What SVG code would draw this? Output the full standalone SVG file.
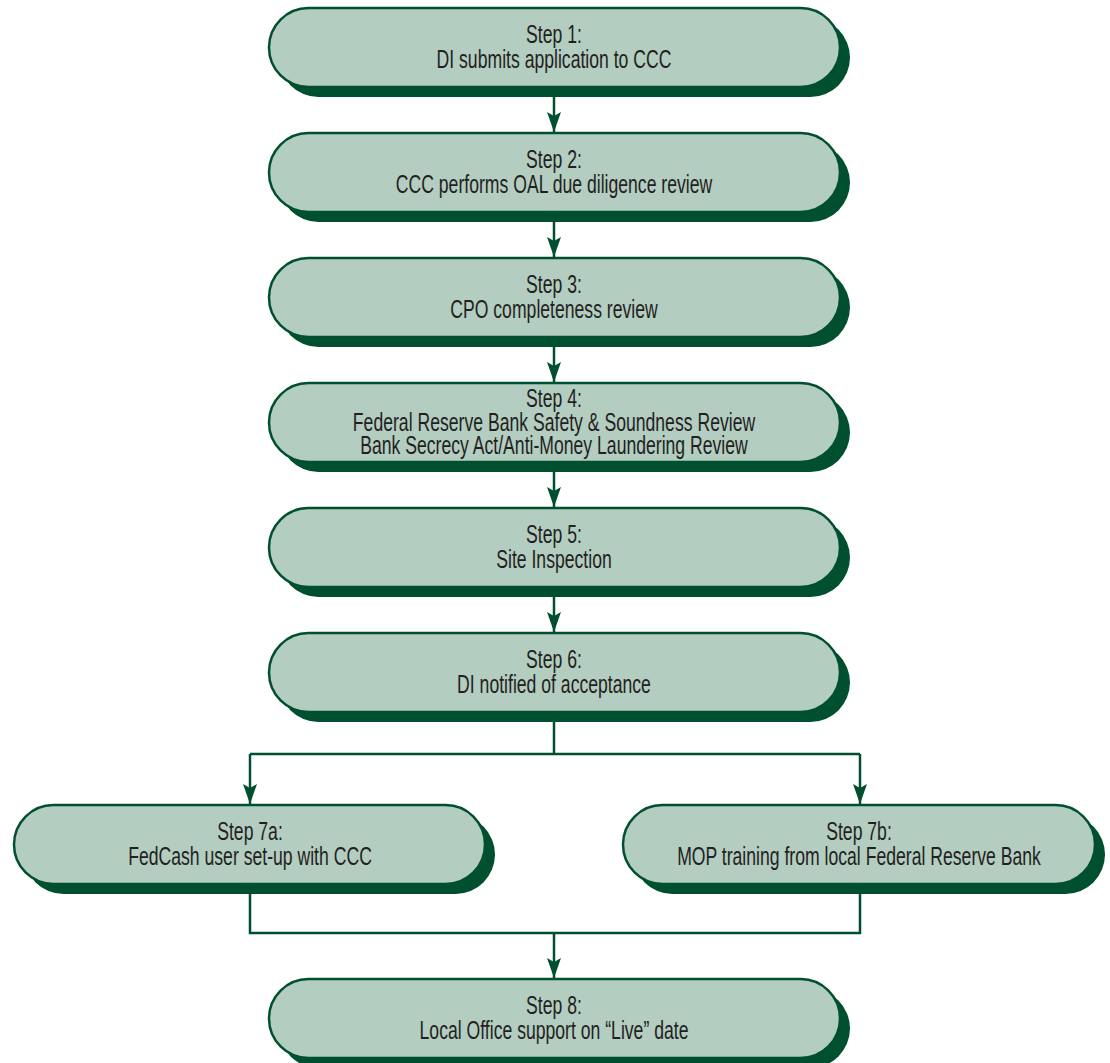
<svg xmlns="http://www.w3.org/2000/svg" width="1110" height="1063" viewBox="0 0 1110 1063">
<style>
.shadow{fill:#00502f}
.pill{fill:#b3cdc1;stroke:#00502f;stroke-width:2.5}
.t{font-family:"Liberation Sans",Arial,sans-serif;font-size:25px;fill:#231f20;text-anchor:middle}
.c{fill:none;stroke:#00502f;stroke-width:2.5}
</style>
<defs>
<marker id="ah" viewBox="0 0 20 14" refX="20" refY="7" markerWidth="20" markerHeight="14" markerUnits="userSpaceOnUse" orient="auto">
<path d="M0,0 L20,7 L0,14 L4,7 Z" fill="#00502f"/>
</marker>
</defs>
<rect width="1110" height="1063" fill="#ffffff"/>
<g id="connectors">
<path class="c" d="M554,97 V132" marker-end="url(#ah)"/>
<path class="c" d="M554,222 V257" marker-end="url(#ah)"/>
<path class="c" d="M554,347 V382" marker-end="url(#ah)"/>
<path class="c" d="M554,472 V507" marker-end="url(#ah)"/>
<path class="c" d="M554,597 V632" marker-end="url(#ah)"/>
<path class="c" d="M554,722 V754"/>
<path class="c" d="M250,754 H860"/>
<path class="c" d="M250,754 V804" marker-end="url(#ah)"/>
<path class="c" d="M860,754 V804" marker-end="url(#ah)"/>
<path class="c" d="M250,894 V933 H860 V894"/>
<path class="c" d="M554,933 V978" marker-end="url(#ah)"/>
</g>
<g id="step1">
<rect class="shadow" x="279" y="18" width="571" height="79" rx="39.5"/>
<rect class="pill" x="269" y="8" width="571" height="79" rx="39.5"/>
<text class="t" transform="translate(554,43) scale(0.705,1)">Step 1:</text>
<text class="t" transform="translate(554,68) scale(0.705,1)">DI submits application to CCC</text>
</g>
<g id="step2">
<rect class="shadow" x="279" y="143" width="571" height="79" rx="39.5"/>
<rect class="pill" x="269" y="133" width="571" height="79" rx="39.5"/>
<text class="t" transform="translate(554,168) scale(0.705,1)">Step 2:</text>
<text class="t" transform="translate(554,193) scale(0.705,1)">CCC performs OAL due diligence review</text>
</g>
<g id="step3">
<rect class="shadow" x="279" y="268" width="571" height="79" rx="39.5"/>
<rect class="pill" x="269" y="258" width="571" height="79" rx="39.5"/>
<text class="t" transform="translate(554,293) scale(0.705,1)">Step 3:</text>
<text class="t" transform="translate(554,318) scale(0.705,1)">CPO completeness review</text>
</g>
<g id="step4">
<rect class="shadow" x="279" y="393" width="571" height="79" rx="39.5"/>
<rect class="pill" x="269" y="383" width="571" height="79" rx="39.5"/>
<text class="t" transform="translate(554,407) scale(0.705,1)">Step 4:</text>
<text class="t" transform="translate(554,431) scale(0.705,1)">Federal Reserve Bank Safety &amp; Soundness Review</text>
<text class="t" transform="translate(554,454) scale(0.705,1)">Bank Secrecy Act/Anti-Money Laundering Review</text>
</g>
<g id="step5">
<rect class="shadow" x="279" y="518" width="571" height="79" rx="39.5"/>
<rect class="pill" x="269" y="508" width="571" height="79" rx="39.5"/>
<text class="t" transform="translate(554,543) scale(0.705,1)">Step 5:</text>
<text class="t" transform="translate(554,568) scale(0.705,1)">Site Inspection</text>
</g>
<g id="step6">
<rect class="shadow" x="279" y="643" width="571" height="79" rx="39.5"/>
<rect class="pill" x="269" y="633" width="571" height="79" rx="39.5"/>
<text class="t" transform="translate(554,668) scale(0.705,1)">Step 6:</text>
<text class="t" transform="translate(554,693) scale(0.705,1)">DI notified of acceptance</text>
</g>
<g id="step7a">
<rect class="shadow" x="24" y="815" width="471" height="79" rx="39.5"/>
<rect class="pill" x="14" y="805" width="471" height="79" rx="39.5"/>
<text class="t" transform="translate(250,840) scale(0.705,1)">Step 7a:</text>
<text class="t" transform="translate(250,865) scale(0.705,1)">FedCash user set-up with CCC</text>
</g>
<g id="step7b">
<rect class="shadow" x="633" y="815" width="472" height="79" rx="39.5"/>
<rect class="pill" x="623" y="805" width="472" height="79" rx="39.5"/>
<text class="t" transform="translate(859,840) scale(0.705,1)">Step 7b:</text>
<text class="t" transform="translate(859,865) scale(0.705,1)">MOP training from local Federal Reserve Bank</text>
</g>
<g id="step8">
<rect class="shadow" x="279" y="989" width="571" height="79" rx="39.5"/>
<rect class="pill" x="269" y="979" width="571" height="79" rx="39.5"/>
<text class="t" transform="translate(554,1014) scale(0.705,1)">Step 8:</text>
<text class="t" transform="translate(554,1039) scale(0.705,1)">Local Office support on “Live” date</text>
</g>
</svg>
